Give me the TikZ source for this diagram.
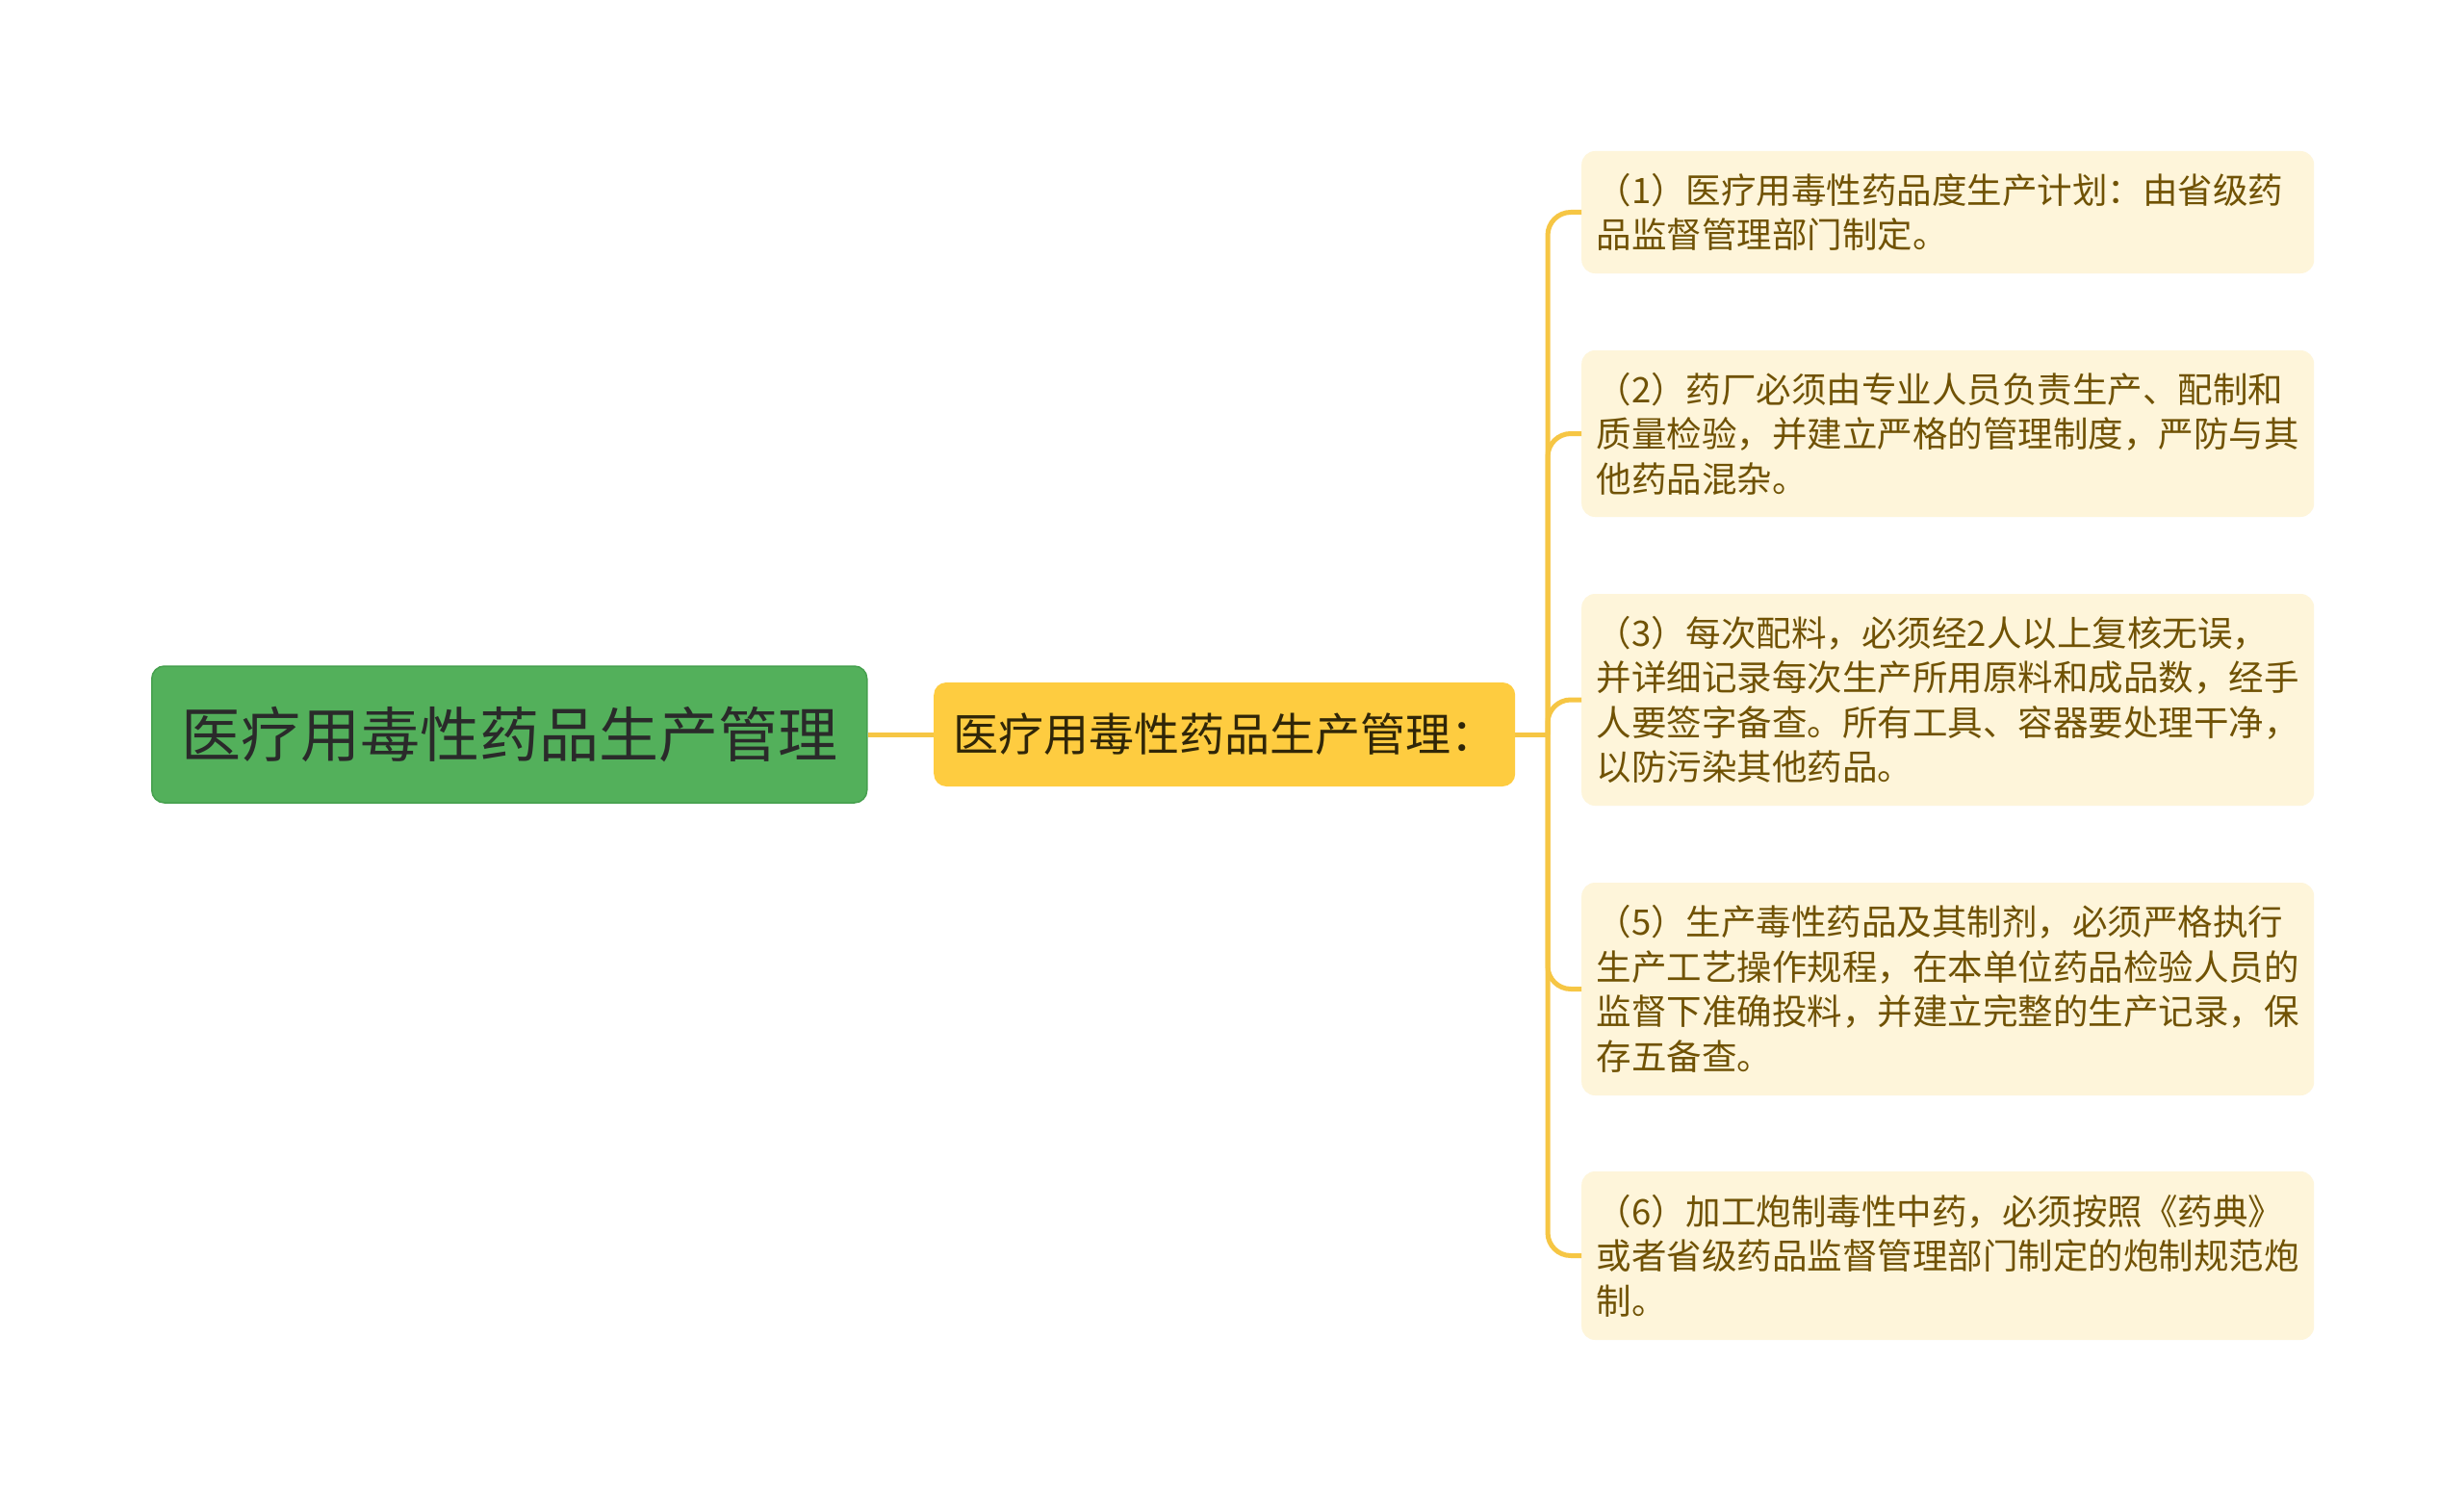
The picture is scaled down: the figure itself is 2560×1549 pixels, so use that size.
\documentclass[tikz,border=0pt]{standalone}
\usepackage{fontspec}
\newfontfamily\cjk{Noto Sans CJK SC}
\definecolor{greenbg}{RGB}{83,176,91}
\definecolor{greenbd}{RGB}{70,160,78}
\definecolor{yellowbg}{RGB}{254,204,64}
\definecolor{leafbg}{RGB}{254,245,218}
\definecolor{leaftext}{RGB}{112,82,4}
\definecolor{linec}{RGB}{246,198,68}
\definecolor{darktext}{RGB}{42,42,42}
\definecolor{subtext}{RGB}{48,38,8}
\begin{document}
\begin{tikzpicture}[x=1pt,y=-1pt,
  leaf/.style={fill=leafbg, rounded corners=14pt, text=leaftext,
    font=\cjk\fontsize{36.5}{46.5}\selectfont, align=left, text width=730pt,
    inner xsep=15.5pt, inner ysep=0pt, anchor=west},
  conn/.style={draw=linec, line width=5pt}]
\useasboundingbox (0,0) rectangle (2560,1549);
\fill[white] (0,0) rectangle (2560,1549);

\node[fill=greenbg, draw=greenbd, line width=1.5pt, rounded corners=13pt,
  minimum width=743pt, minimum height=142pt, anchor=west, inner sep=0pt,
  font=\cjk\fontsize{62}{66}\selectfont, text=darktext] (root) at (157,763) {医疗用毒性药品生产管理};
\node[fill=yellowbg, rounded corners=13pt, minimum width=604pt, minimum height=108pt,
  anchor=west, inner sep=0pt, font=\cjk\fontsize{47}{52}\selectfont, text=subtext] (sub) at (970,763) {医疗用毒性药品生产管理：};

\node[leaf, minimum height=127pt] (l1) at (1643,220.5) {（1）医疗用毒性药品度生产计划：由省级药\\品监督管理部门制定。};
\node[leaf, minimum height=173pt] (l2) at (1643,450.5) {（2）药厂必须由专业人员负责生产、配制和\\质量检验，并建立严格的管理制度，严防与其\\他药品混杂。};
\node[leaf, minimum height=220pt] (l3) at (1643,727) {（3）每次配料，必须经2人以上复核无误，\\并详细记录每次生产所用原料和成品数，经手\\人要签字备查。所有工具、容器要处理干净，\\以防污染其他药品。};
\node[leaf, minimum height=221pt] (l5) at (1643,1027.5) {（5）生产毒性药品及其制剂，必须严格执行\\生产工艺操作规程，在本单位药品检验人员的\\监督下准确投料，并建立完整的生产记录，保\\存五备查。};
\node[leaf, minimum height=175pt] (l6) at (1643,1304.5) {（6）加工炮制毒性中药，必须按照《药典》\\或者省级药品监督管理部门制定的炮制规范炮\\制。};

\coordinate (sp) at (1608,763);
\draw[conn] (root.east) -- (sub.west);
\draw[conn] (sub.east) -- (sp);
\foreach \n in {l1,l2,l3,l5,l6}
  \draw[conn, rounded corners=24pt] (sp) |- (\n.west);
\end{tikzpicture}
\end{document}
